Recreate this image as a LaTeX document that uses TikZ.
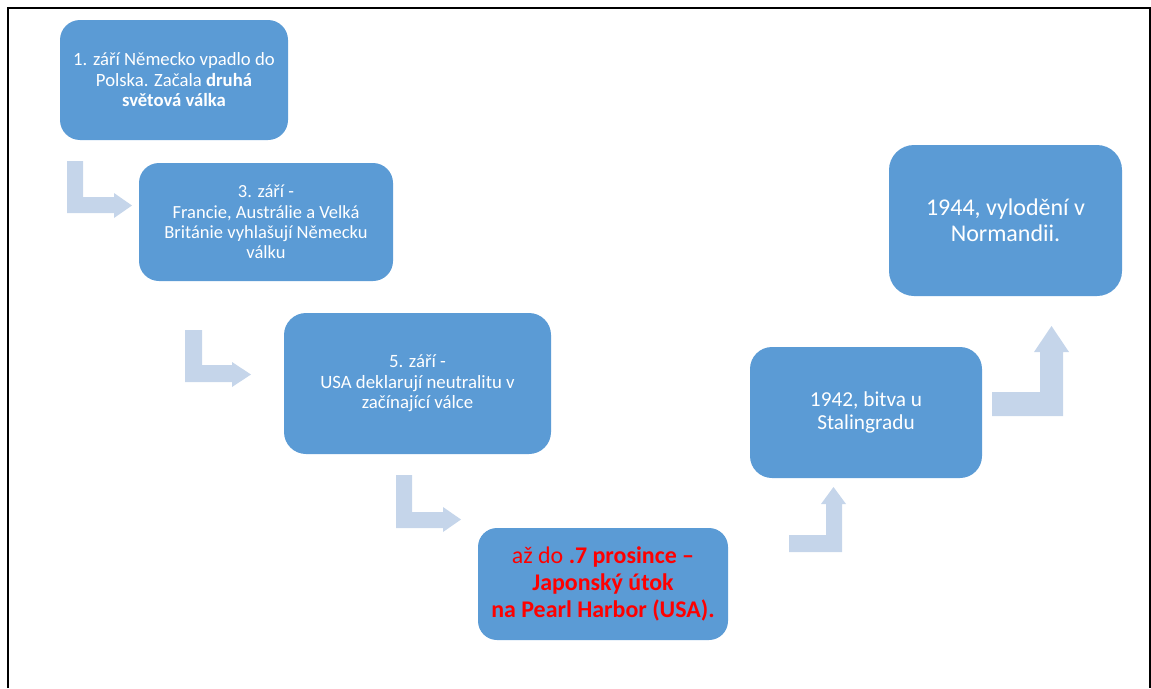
\documentclass[tikz,border=0pt]{standalone}
\usepackage{fontspec}
\setmainfont{Carlito}
\definecolor{boxblue}{HTML}{5B9BD5}
\definecolor{arrowblue}{HTML}{C5D5EA}
\definecolor{redtext}{HTML}{FF0000}
\begin{document}
\begin{tikzpicture}[x=1pt,y=-1pt,
  evbox/.style={fill=boxblue, draw=none, text=white, align=center, inner sep=0pt},
  bentarrow/.style={fill=arrowblue, draw=none}]
\useasboundingbox (0,0) rectangle (1151,688);
% frame
\draw[line width=2pt] (8,688) -- (8,8) -- (1150,8) -- (1150,688);

% boxes
\node[evbox, minimum width=228pt, minimum height=120pt, rounded corners=20pt,
      font=\fontsize{18.7}{20.5}\selectfont] (b1) at (174,80)
  {1. září Německo vpadlo do\\ Polska. Začala \textbf{druhá}\\ \textbf{světová válka}};
\node[evbox, minimum width=254pt, minimum height=118pt, rounded corners=20pt,
      font=\fontsize{18.5}{20.3}\selectfont] (b2) at (266,222)
  {3. září -\\ Francie, Austrálie a Velká\\ Británie vyhlašují Německu\\ válku};
\node[evbox, minimum width=267pt, minimum height=141pt, rounded corners=22pt,
      font=\fontsize{18.8}{20.5}\selectfont] (b3) at (417.5,383.5)
  {5. září -\\ USA deklarují neutralitu v\\ začínající válce};
\node[evbox, minimum width=250pt, minimum height=112pt, rounded corners=19pt,
      text=redtext, font=\fontsize{23.9}{27}\selectfont] (b4) at (603,584)
  {až do \textbf{.7 prosince –}\\ \textbf{Japonský útok}\\ \textbf{na Pearl Harbor (USA).}};
\node[evbox, minimum width=232pt, minimum height=131pt, rounded corners=22pt,
      font=\fontsize{21.3}{23.5}\selectfont] (b5) at (866,412.5)
  {1942, bitva u\\ Stalingradu};
\node[evbox, minimum width=233pt, minimum height=151pt, rounded corners=25pt,
      font=\fontsize{24}{26.5}\selectfont] (b6) at (1005.5,220.5)
  {1944, vylodění v\\ Normandii.};

% bent arrows
\fill[bentarrow] (67,161) -- (83,161) -- (83,197) -- (114,197) -- (114,193) -- (132,205.5) -- (114,218) -- (114,213) -- (67,213) -- cycle;
\fill[bentarrow] (185,330) -- (202,330) -- (202,365) -- (232,365) -- (232,362) -- (251,374.5) -- (232,387) -- (232,382) -- (185,382) -- cycle;
\fill[bentarrow] (396,475) -- (412,475) -- (412,512) -- (443,512) -- (443,507) -- (461,519.5) -- (443,532) -- (443,528) -- (396,528) -- cycle;
\fill[bentarrow] (789,552) -- (842,552) -- (842,504) -- (846,504) -- (833.5,487) -- (821,504) -- (826,504) -- (826,535) -- (789,535) -- cycle;
\fill[bentarrow] (992,416) -- (1063,416) -- (1063,352) -- (1069,352) -- (1051.5,326) -- (1034,352) -- (1040,352) -- (1040,392) -- (992,392) -- cycle;
\end{tikzpicture}
\end{document}
